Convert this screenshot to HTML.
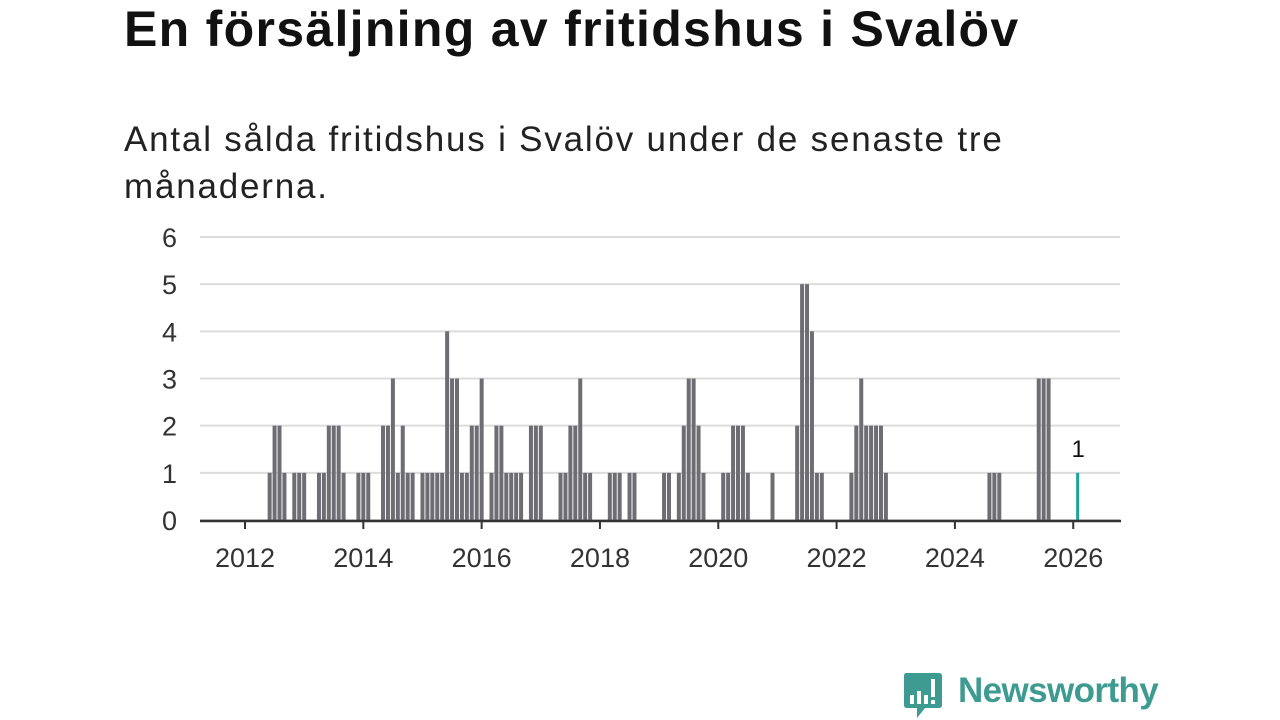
<!DOCTYPE html>
<html><head><meta charset="utf-8">
<style>
body{margin:0;width:1280px;height:720px;background:#fff;overflow:hidden;font-family:"Liberation Sans",sans-serif;}
#title{position:absolute;left:124px;top:0px;font-size:50px;font-weight:bold;color:#111;margin:0;letter-spacing:1.3px;white-space:nowrap}
#sub{position:absolute;left:124px;top:116px;font-size:35px;line-height:47px;color:#222;width:1100px;letter-spacing:1.8px;white-space:nowrap}
svg{position:absolute;left:0;top:0}
</style></head><body>
<h1 id="title">En försäljning av fritidshus i Svalöv</h1>
<div id="sub">Antal sålda fritidshus i Svalöv under de senaste tre<br>månaderna.</div>
<svg id="chart" width="1280" height="720"></svg>
<div style="position:absolute;left:903px;top:671px;width:260px;height:48px">
<svg width="40" height="48" style="position:absolute;left:0;top:0">
<path d="M3 2 H36 Q39 2 39 5 V34 Q39 37 36 37 H22 L14 47 L14 37 H4 Q1 37 1 34 V5 Q1 2 3 2Z" fill="#3e9b92"/>
<rect x="7" y="24" width="4" height="9" fill="#fff"/><rect x="14" y="20" width="4" height="13" fill="#fff"/><rect x="21" y="24" width="4" height="9" fill="#fff"/><rect x="28" y="8" width="4" height="18" fill="#fff"/><rect x="28" y="29" width="4" height="4" fill="#fff"/>
</svg>
<span style="position:absolute;left:55px;top:0px;font-size:35px;color:#3e9b92;font-weight:bold;letter-spacing:-0.6px">Newsworthy</span>
</div>
<script>
const months=["2012-06","2012-07","2012-08","2012-09","2012-11","2012-12","2013-01","2013-04","2013-05","2013-06","2013-07","2013-08","2013-09","2013-12","2014-01","2014-02","2014-05","2014-06","2014-07","2014-08","2014-09","2014-10","2014-11","2015-01","2015-02","2015-03","2015-04","2015-05","2015-06","2015-07","2015-08","2015-09","2015-10","2015-11","2015-12","2016-01","2016-03","2016-04","2016-05","2016-06","2016-07","2016-08","2016-09","2016-11","2016-12","2017-01","2017-05","2017-06","2017-07","2017-08","2017-09","2017-10","2017-11","2018-03","2018-04","2018-05","2018-07","2018-08","2019-02","2019-03","2019-05","2019-06","2019-07","2019-08","2019-09","2019-10","2020-02","2020-03","2020-04","2020-05","2020-06","2020-07","2020-12","2021-05","2021-06","2021-07","2021-08","2021-09","2021-10","2022-04","2022-05","2022-06","2022-07","2022-08","2022-09","2022-10","2022-11","2024-08","2024-09","2024-10","2025-06","2025-07","2025-08","2026-02"];
const values=[1,2,2,1,1,1,1,1,1,2,2,2,1,1,1,1,2,2,3,1,2,1,1,1,1,1,1,1,4,3,3,1,1,2,2,3,1,2,2,1,1,1,1,2,2,2,1,1,2,2,3,1,1,1,1,1,1,1,1,1,1,2,3,3,2,1,1,1,2,2,2,1,1,2,5,5,4,1,1,1,2,3,2,2,2,2,1,1,1,1,3,3,3,1];
const yTicks=[0,1,2,3,4,5,6];
const xTicks=[2012,2014,2016,2018,2020,2022,2024,2026];
const NS="http://www.w3.org/2000/svg";
const svg=document.getElementById('chart');
const x0=245,monthW=4.93,y0=520,unit=47.17;
function xScale(ym){const p=ym.split('-');return x0+((+p[0]-2012)*12+(+p[1]-1))*monthW;}
function xYear(y){return x0+(y-2012)*12*monthW;}
function yScale(v){return y0-v*unit;}
function mk(t,a){const e=document.createElementNS(NS,t);for(const k in a)e.setAttribute(k,a[k]);svg.appendChild(e);return e;}
yTicks.forEach(v=>{
 const g=mk('line',{x1:200,x2:1120,y1:yScale(v),y2:yScale(v),stroke:'#dcdcdc','stroke-width':2});
 
 
 const t=mk('text',{x:177,y:yScale(v)+10,'text-anchor':'end','font-size':27,fill:'#333','font-family':'Liberation Sans, sans-serif'});
 t.textContent=v;
 
 
});
months.forEach((m,i)=>{
 const last=i===months.length-1;
 const r=mk('rect',{x:xScale(m)-2,y:yScale(values[i]),width:last?3:4,height:values[i]*unit,fill:last?'#1aa39a':'#6e6d73'});
 
 
 if(last){
  const t=mk('text',{x:xScale(m),y:yScale(values[i])-16,'text-anchor':'middle','font-size':24,fill:'#111','font-family':'Liberation Sans, sans-serif'});
  t.textContent=values[i];
  
  
 }
});
const ax=mk('line',{x1:200,x2:1121,y1:y0+1,y2:y0+1,stroke:'#333','stroke-width':2.5});


xTicks.forEach(y=>{
 const l=mk('line',{x1:xYear(y),x2:xYear(y),y1:y0,y2:y0+9,stroke:'#333','stroke-width':2});
 
 
 const t=mk('text',{x:xYear(y),y:567,'text-anchor':'middle','font-size':27,fill:'#333','font-family':'Liberation Sans, sans-serif'});
 t.textContent=y;
 
 
});
</script>
</body></html>
